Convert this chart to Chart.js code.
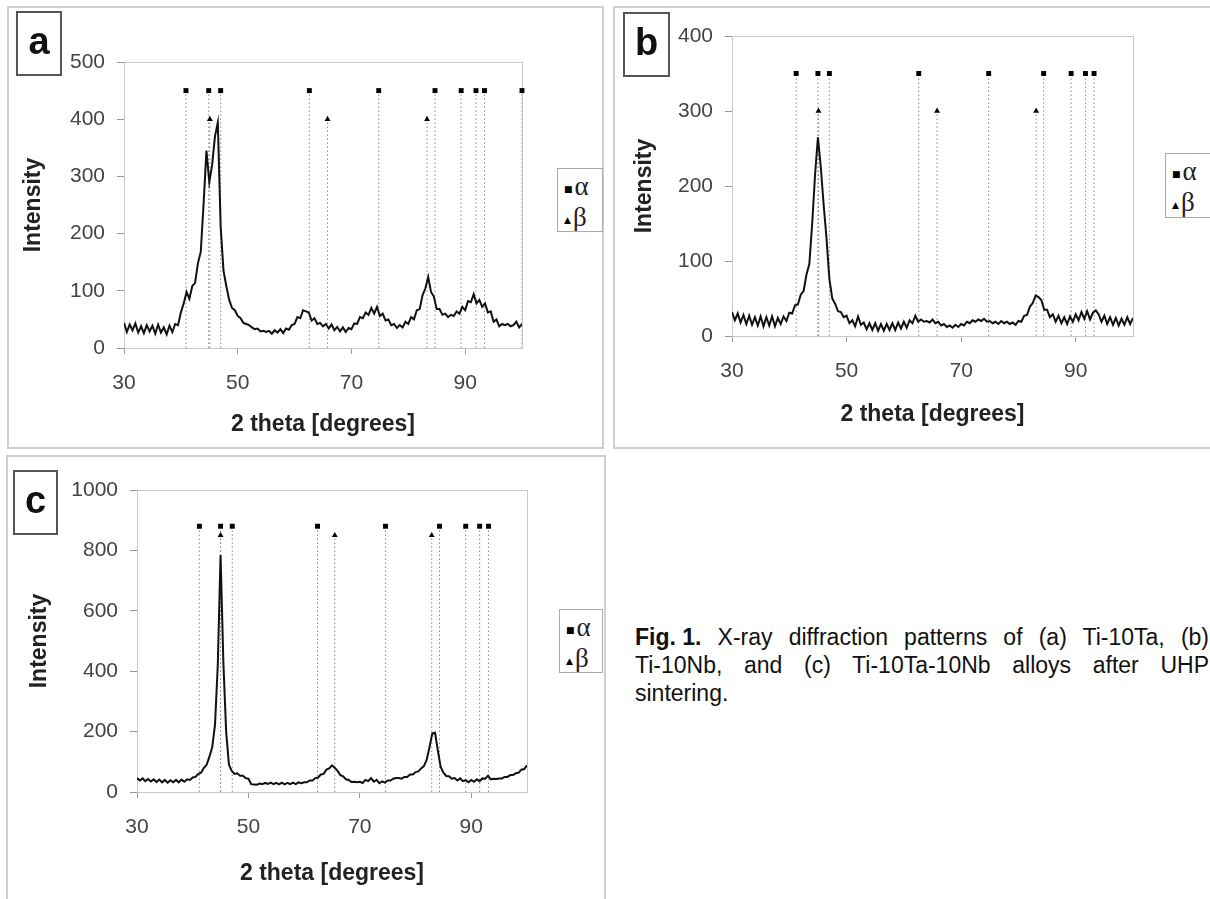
<!DOCTYPE html>
<html>
<head>
<meta charset="utf-8">
<script src="https://cdn.jsdelivr.net/npm/chart.js@4.4.1/dist/chart.umd.min.js"></script>
<style>
body { margin: 0; width: 1210px; height: 899px; overflow: hidden; background: #fff; position: relative; font-family: "Liberation Sans", Arial, sans-serif; }
.panel { position: absolute; border: 2px solid #cfcfcf; box-sizing: border-box; }
canvas { position: absolute; }
.tag { position: absolute; border: 2px solid #555; box-sizing: border-box; font-weight: bold; font-size: 38px; line-height: 56px; text-align: center; color: #111; }
.legend { position: absolute; border: 1px solid #aaa; box-sizing: border-box; background: #fff; font-family: "Liberation Serif", "Times New Roman", serif; font-size: 27px; line-height: 28px; padding: 3px 0 0 6px; color: #222; white-space: nowrap; overflow: hidden; }
.legend .mk { font-family: "DejaVu Sans", sans-serif; font-size: 9px; vertical-align: middle; margin-right: 2px; color: #000; }
.caption { position: absolute; left: 635px; top: 623px; width: 574px; font-size: 23px; line-height: 28px; color: #111; }
.caption div { text-align: justify; text-align-last: justify; white-space: nowrap; }
.caption div.last { text-align-last: left; }
.caption b { display: inline-block; }
</style>
</head>
<body>

<div class="panel" style="left:7px;top:6px;width:597px;height:443px;"></div>
<div class="panel" style="left:613px;top:6px;width:620px;height:443px;"></div>
<div class="panel" style="left:6px;top:455px;width:600px;height:470px;"></div>

<canvas id="chartA" width="595" height="441" style="left:8px;top:7px;"></canvas>
<canvas id="chartB" width="596" height="441" style="left:614px;top:7px;"></canvas>
<canvas id="chartC" width="598" height="443" style="left:7px;top:456px;"></canvas>

<div class="tag" style="left:16px;top:11px;width:46px;height:65px;">a</div>
<div class="tag" style="left:623px;top:12px;width:47px;height:65px;">b</div>
<div class="tag" style="left:13px;top:470px;width:45px;height:65px;">c</div>

<div class="legend" style="left:557px;top:168px;width:46px;height:64px;"><div><span class="mk">&#9632;</span>&alpha;</div><div><span class="mk">&#9650;</span>&beta;</div></div>
<div class="legend" style="left:1165px;top:153px;width:52px;height:65px;"><div><span class="mk">&#9632;</span>&alpha;</div><div><span class="mk">&#9650;</span>&beta;</div></div>
<div class="legend" style="left:559px;top:609px;width:44px;height:64px;"><div><span class="mk">&#9632;</span>&alpha;</div><div><span class="mk">&#9650;</span>&beta;</div></div>

<div class="caption">
  <div><b>Fig. 1.</b> X-ray diffraction patterns of (a) Ti-10Ta, (b)</div>
  <div>Ti-10Nb, and (c) Ti-10Ta-10Nb alloys after UHP</div>
  <div class="last">sintering.</div>
</div>

<script>
// 2 theta grid of the scans: 30..100 deg, 0.5 deg apart
var twoThetaStart = 30;
var twoThetaStep = 0.5;
var xTickValues = [30, 50, 70, 90];

// (a) Ti-10Ta
var intensityA = [
    44, 28, 41, 31, 43, 27, 38, 26, 40, 29,
    39, 25, 41, 27, 36, 24, 39, 28, 42, 40,
    62, 78, 98, 86, 108, 114, 148, 168, 252, 345,
    290, 320, 370, 394, 212, 135, 108, 84, 70, 66,
    56, 52, 44, 42, 40, 36, 33, 34, 29, 30,
    28, 30, 25, 31, 27, 33, 26, 34, 32, 40,
    42, 54, 52, 66, 64, 62, 48, 52, 42, 44,
    38, 42, 34, 41, 31, 37, 29, 36, 28, 35,
    33, 43, 42, 54, 52, 62, 58, 70, 60, 72,
    56, 60, 48, 50, 40, 42, 35, 40, 36, 46,
    42, 54, 50, 66, 68, 92, 104, 124, 98, 90,
    68, 68, 58, 60, 54, 58, 56, 64, 60, 72,
    66, 82, 80, 94, 78, 84, 72, 78, 62, 64,
    46, 50, 38, 42, 40, 42, 38, 40, 46, 36,
    42
];
var alphaPeaksA = [40.9, 44.9, 47.0, 62.6, 74.8, 84.7, 89.3, 91.9, 93.4, 100];
var betaPeaksA = [45.1, 65.8, 83.3];

// (b) Ti-10Nb
var intensityB = [
    32, 21, 30, 18, 28, 16, 27, 15, 25, 14,
    26, 13, 25, 14, 26, 13, 24, 16, 26, 20,
    31, 30, 41, 42, 55, 60, 82, 96, 150, 215,
    265, 225, 175, 130, 76, 50, 43, 33, 32, 25,
    27, 17, 21, 13, 26, 15, 18, 9, 17, 8,
    17, 7, 16, 7, 16, 8, 17, 8, 18, 10,
    19, 11, 21, 17, 27, 19, 22, 19, 20, 18,
    22, 17, 19, 14, 16, 12, 14, 11, 15, 12,
    16, 14, 19, 17, 21, 19, 22, 20, 23, 19,
    20, 17, 19, 16, 20, 17, 19, 16, 18, 15,
    20, 19, 27, 28, 39, 44, 54, 52, 48, 35,
    35, 25, 29, 19, 27, 17, 25, 16, 26, 19,
    29, 21, 32, 23, 33, 22, 31, 34, 29, 19,
    27, 16, 25, 15, 24, 14, 23, 15, 25, 16,
    24
];
var alphaPeaksB = [41.2, 45.0, 47.0, 62.6, 74.8, 84.4, 89.2, 91.7, 93.2];
var betaPeaksB = [45.1, 65.8, 83.1];

// (c) Ti-10Ta-10Nb
var intensityC = [
    46, 38, 45, 36, 43, 35, 42, 33, 41, 32,
    40, 31, 39, 32, 40, 32, 41, 34, 42, 40,
    48, 50, 60, 64, 80, 90, 117, 148, 222, 420,
    785, 430, 200, 90, 70, 60, 62, 54, 54, 46,
    44, 26, 25, 24, 28, 26, 30, 27, 31, 26,
    30, 25, 31, 25, 30, 26, 31, 26, 32, 29,
    32, 32, 38, 38, 46, 48, 58, 60, 74, 78,
    88, 80, 70, 56, 52, 42, 40, 33, 34, 32,
    34, 30, 40, 36, 46, 34, 40, 29, 35, 31,
    38, 38, 44, 46, 46, 44, 50, 50, 58, 58,
    66, 68, 78, 86, 107, 148, 194, 196, 137, 83,
    64, 53, 52, 44, 46, 38, 45, 36, 39, 32,
    40, 34, 42, 36, 45, 44, 54, 42, 44, 43,
    45, 45, 50, 50, 56, 56, 62, 64, 74, 76,
    88
];
var alphaPeaksC = [41.2, 45.0, 47.1, 62.4, 74.6, 84.3, 89.0, 91.5, 93.1];
var betaPeaksC = [45.0, 65.5, 82.9];

Chart.defaults.font.family = "'Liberation Sans', Arial, sans-serif";

var plotFrame = {
    id: "plotFrame",
    beforeDatasetsDraw: function (chart) {
        var a = chart.chartArea;
        var ctx = chart.ctx;
        ctx.save();
        ctx.strokeStyle = "#c8c8c8";
        ctx.lineWidth = 1;
        ctx.strokeRect(a.left + 0.5, a.top + 0.5, a.right - a.left, a.bottom - a.top);
        ctx.restore();
    }
};

function traceData(values) {
    var pts = [];
    for (var i = 0; i < values.length; i++) {
        pts.push({ x: twoThetaStart + i * twoThetaStep, y: values[i] });
    }
    return pts;
}

function dropLines(peaks, level) {
    var pts = [];
    for (var i = 0; i < peaks.length; i++) {
        pts.push({ x: peaks[i], y: 0 }, { x: peaks[i], y: level }, { x: peaks[i], y: null });
    }
    return pts;
}

function markers(peaks, level) {
    return peaks.map(function (p) { return { x: p, y: level }; });
}

function makePanel(p) {
    var titleSize = 23;
    var lh = titleSize * 1.2;
    var yWidth = p.plot.left - p.box.left;
    var xHeight = p.box.top + p.box.height - p.plot.bottom;

    var ctx = document.getElementById(p.id).getContext("2d");
    new Chart(ctx, {
        type: "scatter",
        data: {
            datasets: [{
                data: traceData(p.values),
                showLine: true,
                borderColor: "#111",
                borderWidth: 2,
                pointRadius: 0,
                tension: 0
            }, {
                data: markers(p.alpha, p.alphaLevel),
                pointStyle: "rect",
                pointRadius: 3.5,
                pointBorderWidth: 0,
                backgroundColor: "#000",
                clip: false
            }, {
                data: markers(p.beta, p.betaLevel),
                pointStyle: "triangle",
                pointRadius: 3.4,
                pointBorderWidth: 0,
                backgroundColor: "#000",
                clip: false
            }, {
                data: dropLines(p.alpha, p.alphaLevel),
                showLine: true,
                borderColor: "#8a8a8a",
                borderWidth: 1,
                borderDash: [1.5, 2.5],
                pointRadius: 0
            }, {
                data: dropLines(p.beta, p.betaLevel),
                showLine: true,
                borderColor: "#8a8a8a",
                borderWidth: 1,
                borderDash: [1.5, 2.5],
                pointRadius: 0
            }]
        },
        options: {
            responsive: false,
            animation: false,
            devicePixelRatio: 1,
            layout: {
                padding: {
                    left: 0,
                    top: p.plot.top - p.box.top,
                    right: p.box.left + p.box.width - p.plot.right,
                    bottom: 0
                }
            },
            plugins: {
                legend: { display: false },
                tooltip: { enabled: false }
            },
            scales: {
                x: {
                    type: "linear",
                    min: 30,
                    max: 100,
                    afterBuildTicks: function (scale) {
                        scale.ticks = xTickValues.map(function (v) { return { value: v }; });
                    },
                    afterFit: function (scale) {
                        scale.height = xHeight;
                        scale.paddingLeft = 0;
                        scale.paddingRight = 0;
                        scale.paddingTop = 0;
                        scale.paddingBottom = 0;
                    },
                    ticks: { color: "#444", font: { size: 21 }, padding: 17, maxRotation: 0 },
                    grid: { drawOnChartArea: false, drawTicks: true, tickLength: 6, color: "#999" },
                    border: { color: "#999" },
                    title: {
                        display: true,
                        text: "2 theta [degrees]",
                        color: "#222",
                        font: { size: titleSize, weight: "bold" },
                        padding: { top: 0, bottom: p.box.height - (p.xTitleY - p.box.top) - lh / 2 }
                    }
                },
                y: {
                    min: 0,
                    max: p.yMax,
                    ticks: {
                        stepSize: p.yStep,
                        color: "#444",
                        font: { size: 21 },
                        padding: 12,
                        callback: function (v) { return String(v); }
                    },
                    afterFit: function (scale) {
                        scale.width = yWidth;
                        scale.paddingLeft = 0;
                        scale.paddingRight = 0;
                        scale.paddingTop = 0;
                        scale.paddingBottom = 0;
                    },
                    grid: { drawOnChartArea: false, drawTicks: true, tickLength: 7, color: "#999" },
                    border: { color: "#999" },
                    title: {
                        display: true,
                        text: "Intensity",
                        color: "#222",
                        font: { size: titleSize, weight: "bold" },
                        padding: { top: p.yTitleX - p.box.left - lh / 2, bottom: 0 }
                    }
                }
            }
        },
        plugins: [plotFrame]
    });
}

makePanel({
    id: "chartA",
    box: { left: 8, top: 7, width: 595, height: 441 },
    plot: { left: 124, top: 62, right: 522, bottom: 348 },
    xTitleY: 425, yTitleX: 34,
    yMax: 500, yStep: 100,
    values: intensityA,
    alpha: alphaPeaksA, alphaLevel: 450,
    beta: betaPeaksA, betaLevel: 400
});

makePanel({
    id: "chartB",
    box: { left: 614, top: 7, width: 596, height: 441 },
    plot: { left: 732, top: 36, right: 1133, bottom: 336 },
    xTitleY: 415, yTitleX: 645,
    yMax: 400, yStep: 100,
    values: intensityB,
    alpha: alphaPeaksB, alphaLevel: 350,
    beta: betaPeaksB, betaLevel: 300
});

makePanel({
    id: "chartC",
    box: { left: 7, top: 456, width: 598, height: 443 },
    plot: { left: 137, top: 490, right: 527, bottom: 792 },
    xTitleY: 874, yTitleX: 40,
    yMax: 1000, yStep: 200,
    values: intensityC,
    alpha: alphaPeaksC, alphaLevel: 880,
    beta: betaPeaksC, betaLevel: 850
});
</script>
</body>
</html>
